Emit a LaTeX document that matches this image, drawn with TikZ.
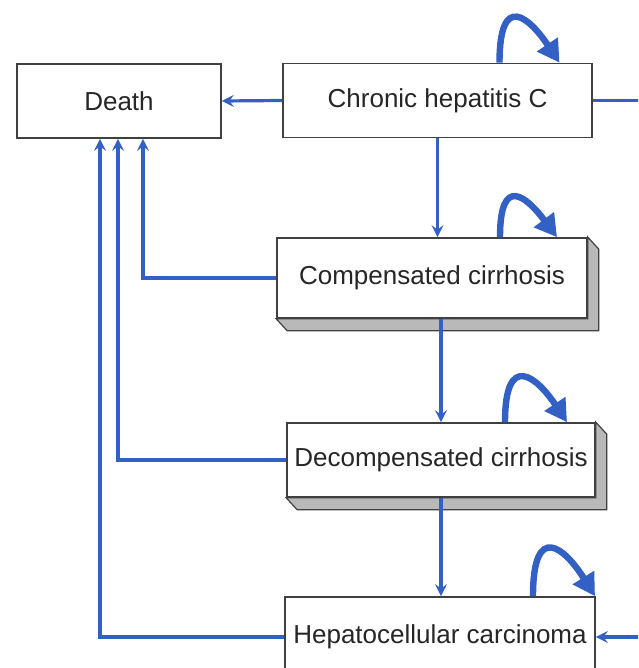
\documentclass[tikz,border=0pt]{standalone}
\usepackage{fontspec}
\setmainfont{Liberation Sans}
\usepackage{tikz}
\usetikzlibrary{arrows, arrows.meta, calc, positioning}

\definecolor{flowblue}{RGB}{50,96,196}
\definecolor{boxline}{RGB}{64,64,64}

\tikzset{
  state/.style={draw=boxline, line width=0.8pt, fill=white, inner sep=0pt, minimum height=37pt, text=black!85, font=\fontsize{13}{15}\selectfont},
  flow/.style={draw=flowblue, line width=1.6pt, -stealth},
  selfloop/.style={draw=flowblue, line width=3.2pt, -{Triangle[length=11pt, width=12pt]}},
  slab/.style={fill=gray!55, draw=boxline, line width=0.6pt}
}

% grey side and bottom faces of a raised box
\newcommand{\raised}[1]{%
  \draw[slab] (#1.north east) -- ++(5.5pt,-6pt) -- ($(#1.south east)+(5.5pt,-6pt)$) -- ($(#1.south west)+(5.5pt,-6pt)$) -- (#1.south west) -- (#1.south east) -- cycle;}

\begin{document}
\begin{tikzpicture}[x=0.5pt, y=-0.5pt]
\clip (0,0) rectangle (638,668);
\fill[white] (0,0) rectangle (638,668);

\node[state, minimum width=102pt] (death) at (119,101) {Death};
\node[state, minimum width=154.5pt] (chc) at (437.5,100.5) {Chronic hepatitis C};
\node[state, minimum width=155pt, minimum height=40pt] (cc) at (432,278) {Compensated cirrhosis};
\node[state, minimum width=154pt] (dc) at (441,460) {Decompensated cirrhosis};
\node[state, minimum width=155pt, minimum height=40pt] (hcc) at (440,637) {Hepatocellular carcinoma};
\raised{cc} \raised{dc}

% transitions
\draw[flow] (chc.west) -- (death.east);
\draw[flow] (chc.south) -- (chc.south |- cc.north);
\draw[flow] (dc.north |- cc.south) -- (dc.north);
\draw[flow] (dc.south) -- (dc.south |- hcc.north);
\draw[flow] (chc.east) -- ++(60,0) |- (hcc.east);

\draw[flow] (cc.west) -| ([xshift=12pt]death.south);
\draw[flow] (dc.west) -| ([xshift=-0.5pt]death.south);
\draw[flow] (hcc.west) -| ([xshift=-9.5pt]death.south);

% staying in the same state
\draw[selfloop] ([xshift=31pt]chc.north) .. controls +(0,-72) and +(-30,-45) .. ([xshift=61pt]chc.north);
\draw[selfloop] ([xshift=34pt]cc.north) .. controls +(0,-64) and +(-30,-40) .. ([xshift=62.5pt]cc.north);
\draw[selfloop] ([xshift=32pt]dc.north) .. controls +(0,-72) and +(-30,-45) .. ([xshift=63pt]dc.north);
\draw[selfloop] ([xshift=46.5pt]hcc.north) .. controls +(0,-76) and +(-30,-48) .. ([xshift=77.5pt]hcc.north);
\end{tikzpicture}
\end{document}
